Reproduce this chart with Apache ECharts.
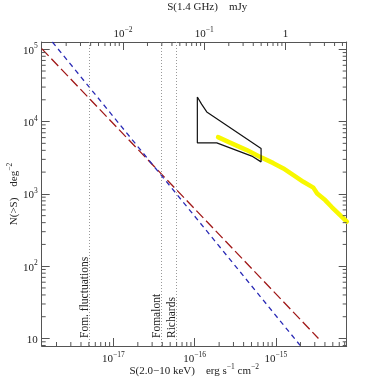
<!DOCTYPE html>
<html><head><meta charset="utf-8">
<script src="https://cdn.jsdelivr.net/npm/echarts@6/dist/echarts.min.js"></script>
<style>html,body{margin:0;padding:0;background:#fff}#c{width:388px;height:388px}</style>
</head><body><div id="c"></div>
<script>
const FONT = '"Liberation Serif", "DejaVu Serif", serif';
// axis ranges
const xRange = [1.315e-18, 7.41e-15];      // S(2.0-10 keV) erg s^-1 cm^-2
const yRange = [7.87, 1.26e5];             // N(>S) deg^-2
const radioRange = [1e-3, 5.64];           // S(1.4 GHz) mJy
// model lines
const redS = [1.315e-18, 3.33e-15];
const redN = [1.02e5, 10];
const blueS = [1.78e-18, 1.98e-15];
const blueN = [1.26e5, 8.05];
// black box
const boxS = [1.079e-16, 1.216e-16, 1.409e-16, 6.56e-16, 6.56e-16, 5.04e-16, 1.87e-16, 1.079e-16, 1.079e-16];
const boxN = [21900, 17400, 13600, 4250, 2770, 3330, 5080, 5080, 21900];
// yellow counts
const yellowS = [1.94e-16, 2.72e-16, 4.37e-16, 6.68e-16, 9.29e-16, 1.233e-15, 1.637e-15, 2.17e-15, 2.88e-15, 3.21e-15, 4.02e-15, 4.85e-15, 6.14e-15, 7.43e-15];
const yellowN = [6090, 5110, 4030, 3170, 2660, 2250, 1820, 1470, 1220, 1010, 820, 658, 509, 412];
// vertical limits
const limitNames = ['Fom. fluctuations', 'Fomalont', 'Richards'];
const limitS = [5.02e-18, 3.89e-17, 5.90e-17];

const LINE = '#555', TXT = '#222';
function minorTicks(lo, hi) {
  const out = [];
  for (let e = Math.floor(Math.log10(lo)); e <= Math.ceil(Math.log10(hi)); e++) {
    for (let k = 2; k <= 9; k++) { const v = k * Math.pow(10, e); if (v > lo && v < hi) out.push(v); }
  }
  return out;
}
function powLabel(v) {
  const l = Math.log10(v), e = Math.round(l);
  if (Math.abs(l - e) > 1e-6) return '';
  if (e === 0) return '{b|1}';
  if (e === 1) return '{b|10}';
  return '{b|10}{s|' + (e < 0 ? '−' : '') + Math.abs(e) + '}';
}
const rich = {
  b: {fontFamily: FONT, fontSize: 11, color: TXT, lineHeight: 14, verticalAlign: 'bottom'},
  s: {fontFamily: FONT, fontSize: 7.5, color: TXT, lineHeight: 14, verticalAlign: 'top'}
};
function tickRender(params, api) {
  const side = api.value(2);
  const p = api.coord([api.value(0), api.value(1)]);
  const L = 4;
  let x2 = p[0], y2 = p[1];
  if (side === 0) y2 = p[1] - L;
  else if (side === 1) y2 = p[1] + L;
  else if (side === 2) x2 = p[0] + L;
  else x2 = p[0] - L;
  return {type: 'line', shape: {x1: p[0], y1: p[1], x2: x2, y2: y2}, style: {stroke: LINE, lineWidth: 1}};
}
const mainTickData = [];
minorTicks(xRange[0], xRange[1]).forEach(v => mainTickData.push([v, yRange[0], 0]));
minorTicks(yRange[0], yRange[1]).forEach(v => { mainTickData.push([xRange[0], v, 2]); mainTickData.push([xRange[1], v, 3]); });
const topTickData = minorTicks(radioRange[0], radioRange[1]).map(v => [v, yRange[1], 1]);

const axisCommon = {
  type: 'log', logBase: 10,
  axisLine: {show: true, lineStyle: {color: LINE, width: 1}},
  axisTick: {show: true, inside: true, length: 8, lineStyle: {color: LINE, width: 1}},
  splitLine: {show: false}, minorTick: {show: false}, minorSplitLine: {show: false},
  axisLabel: {formatter: powLabel, rich: rich, showMinLabel: false, showMaxLabel: false},
  nameMoveOverlap: false
};

const chart = echarts.init(document.getElementById('c'), null, {renderer: 'canvas'});
chart.setOption({
  animation: false,
  backgroundColor: '#fff',
  grid: {left: 41.7, right: 41.3, top: 42, bottom: 42, containLabel: false, outerBoundsMode: 'none'},
  xAxis: [
    Object.assign({}, axisCommon, {
      position: 'bottom', min: xRange[0], max: xRange[1],
      axisLabel: Object.assign({}, axisCommon.axisLabel, {margin: 5}),
      name: '{b|S(2.0−10 keV)    erg s}{s|−1}{b| cm}{s|−2}', nameLocation: 'middle', nameGap: 17,
      nameTextStyle: {rich: rich}
    }),
    Object.assign({}, axisCommon, {
      position: 'top', min: radioRange[0], max: radioRange[1],
      axisLabel: Object.assign({}, axisCommon.axisLabel, {margin: 2}),
      name: '{b|S(1.4 GHz)    mJy}', nameLocation: 'middle', nameGap: 29,
      nameTextStyle: {rich: rich, padding: [0, 0, 0, 26]}
    })
  ],
  yAxis: [
    Object.assign({}, axisCommon, {
      position: 'left', min: yRange[0], max: yRange[1],
      axisLabel: Object.assign({}, axisCommon.axisLabel, {margin: 4}),
      name: '{b|N(>S)    deg}{s|−2}', nameLocation: 'middle', nameGap: 22,
      nameTextStyle: {rich: rich}
    }),
    Object.assign({}, axisCommon, {
      position: 'right', min: yRange[0], max: yRange[1],
      axisLabel: {show: false}
    })
  ],
  series: [
    {type: 'custom', xAxisIndex: 0, yAxisIndex: 0, renderItem: tickRender, data: mainTickData, silent: true, clip: false, z: 5},
    {type: 'custom', xAxisIndex: 1, yAxisIndex: 0, renderItem: tickRender, data: topTickData, silent: true, clip: false, z: 5},
    {type: 'line', xAxisIndex: 0, yAxisIndex: 0, data: redS.map((s, i) => [s, redN[i]]), showSymbol: false, symbol: 'none',
     lineStyle: {color: '#a01818', width: 1.3, type: [10, 4]}, clip: true, silent: true},
    {type: 'line', xAxisIndex: 0, yAxisIndex: 0, data: blueS.map((s, i) => [s, blueN[i]]), showSymbol: false, symbol: 'none',
     lineStyle: {color: '#2a2ab5', width: 1.3, type: [5, 4]}, clip: true, silent: true},
    {type: 'line', xAxisIndex: 0, yAxisIndex: 0, data: yellowS.map((s, i) => [s, yellowN[i]]), showSymbol: false, symbol: 'none',
     lineStyle: {color: '#f8f800', width: 4.5, cap: 'round', join: 'round'}, clip: true, silent: true},
    {type: 'line', xAxisIndex: 0, yAxisIndex: 0, data: boxS.map((s, i) => [s, boxN[i]]), showSymbol: false, symbol: 'none',
     lineStyle: {color: '#111', width: 1.2}, clip: true, silent: true,
     markLine: {
       silent: true, symbol: ['none', 'none'], animation: false,
       lineStyle: {type: [1, 2], color: '#999', width: 1},
       label: {show: true, position: 'insideStartTop', formatter: '{b}', fontFamily: FONT, fontSize: 11.5, color: TXT, distance: [8, -2]},
       data: limitS.map((s, i) => [{name: limitNames[i], coord: [s, yRange[0]]}, {coord: [s, yRange[1]]}])
     }}
  ]
});
</script></body></html>
